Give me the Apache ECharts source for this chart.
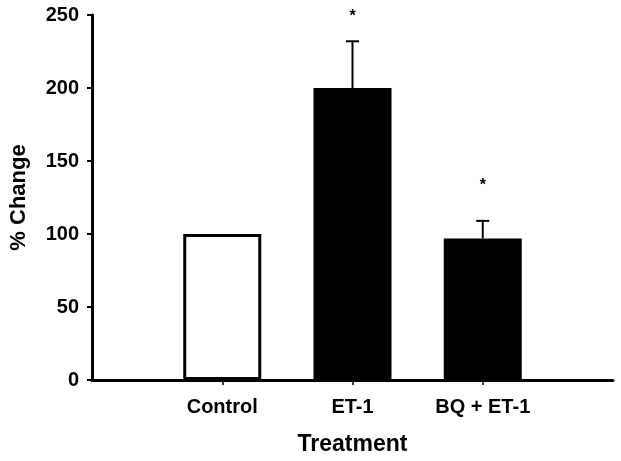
<!DOCTYPE html>
<html><head><meta charset="utf-8">
<script src="https://cdn.jsdelivr.net/npm/echarts@6/dist/echarts.min.js"></script>
<style>html,body{margin:0;padding:0;background:#fff}#c{width:621px;height:461px}</style>
</head><body><div id="c"></div>
<script>
// categories (empty slots pad the axis ends)
const categories = ['', 'Control', 'ET-1', 'BQ + ET-1', ''];
const means = [null, 100, 200, 97, null];
const errorTops = [null, null, 232, 109, null];
const sigMarks = [null, null, 251, 135, null];
const yTicks = {min: 0, max: 250, interval: 50};

const FONT = 'Liberation Sans, Arial, sans-serif';
const barData = means.map((v, i) => {
  if (v == null) return '-';
  if (i === 1) return {value: v, itemStyle: {color: '#fff', borderColor: '#000', borderWidth: 3}};
  return {value: v, itemStyle: {color: '#000'}};
});
const errData = [];
means.forEach((v, i) => { if (errorTops[i] != null) errData.push([i, v, errorTops[i]]); });
const sigData = [];
sigMarks.forEach((v, i) => { if (v != null) sigData.push([i, v]); });

const chart = echarts.init(document.getElementById('c'));
chart.setOption({
  animation: false,
  backgroundColor: '#fff',
  grid: {left: 90, right: 8, top: 15, bottom: 80},
  xAxis: {
    type: 'category', data: categories, boundaryGap: false,
    axisLine: {lineStyle: {color: '#000', width: 3}},
    axisTick: {show: true, length: 5, lineStyle: {color: '#000', width: 1.5},
      interval: (i) => i > 0 && i < categories.length - 1},
    axisLabel: {color: '#000', fontWeight: 'bold', fontSize: 20, fontFamily: FONT, margin: 17,
      interval: 0},
    name: 'Treatment', nameLocation: 'middle', nameGap: 53,
    nameTextStyle: {color: '#000', fontWeight: 'bold', fontSize: 23, fontFamily: FONT},
    splitLine: {show: false}
  },
  yAxis: {
    type: 'value', min: yTicks.min, max: yTicks.max, interval: yTicks.interval,
    axisLine: {show: true, lineStyle: {color: '#000', width: 3}},
    axisTick: {show: true, length: 5, lineStyle: {color: '#000', width: 2}},
    axisLabel: {color: '#000', fontWeight: 'bold', fontSize: 20, fontFamily: FONT, margin: 13},
    splitLine: {show: false},
    name: '% Change', nameLocation: 'middle', nameGap: 62,
    nameTextStyle: {color: '#000', fontWeight: 'bold', fontSize: 22, fontFamily: FONT}
  },
  series: [
    {type: 'bar', data: barData, barWidth: 78, z: 1},
    {type: 'custom', data: errData, z: 3, clip: false,
      renderItem: (params, api) => {
        const x = api.value(0);
        const base = api.coord([x, api.value(1)]);
        const top = api.coord([x, api.value(2)]);
        const hw = 6.5;
        const st = {stroke: '#000', lineWidth: 2};
        return {type: 'group', children: [
          {type: 'line', shape: {x1: base[0], y1: base[1], x2: top[0], y2: top[1]}, style: st},
          {type: 'line', shape: {x1: top[0] - hw, y1: top[1], x2: top[0] + hw, y2: top[1]}, style: st}
        ]};
      }},
    {type: 'custom', data: sigData, z: 3, clip: false,
      renderItem: (params, api) => {
        const p = api.coord([api.value(0), api.value(1)]);
        return {type: 'text', x: p[0], y: p[1] + 3,
          style: {text: '*', fill: '#000', fontSize: 16, fontWeight: 'bold', fontFamily: FONT,
            align: 'center', verticalAlign: 'middle'}};
      }}
  ]
});
</script></body></html>
